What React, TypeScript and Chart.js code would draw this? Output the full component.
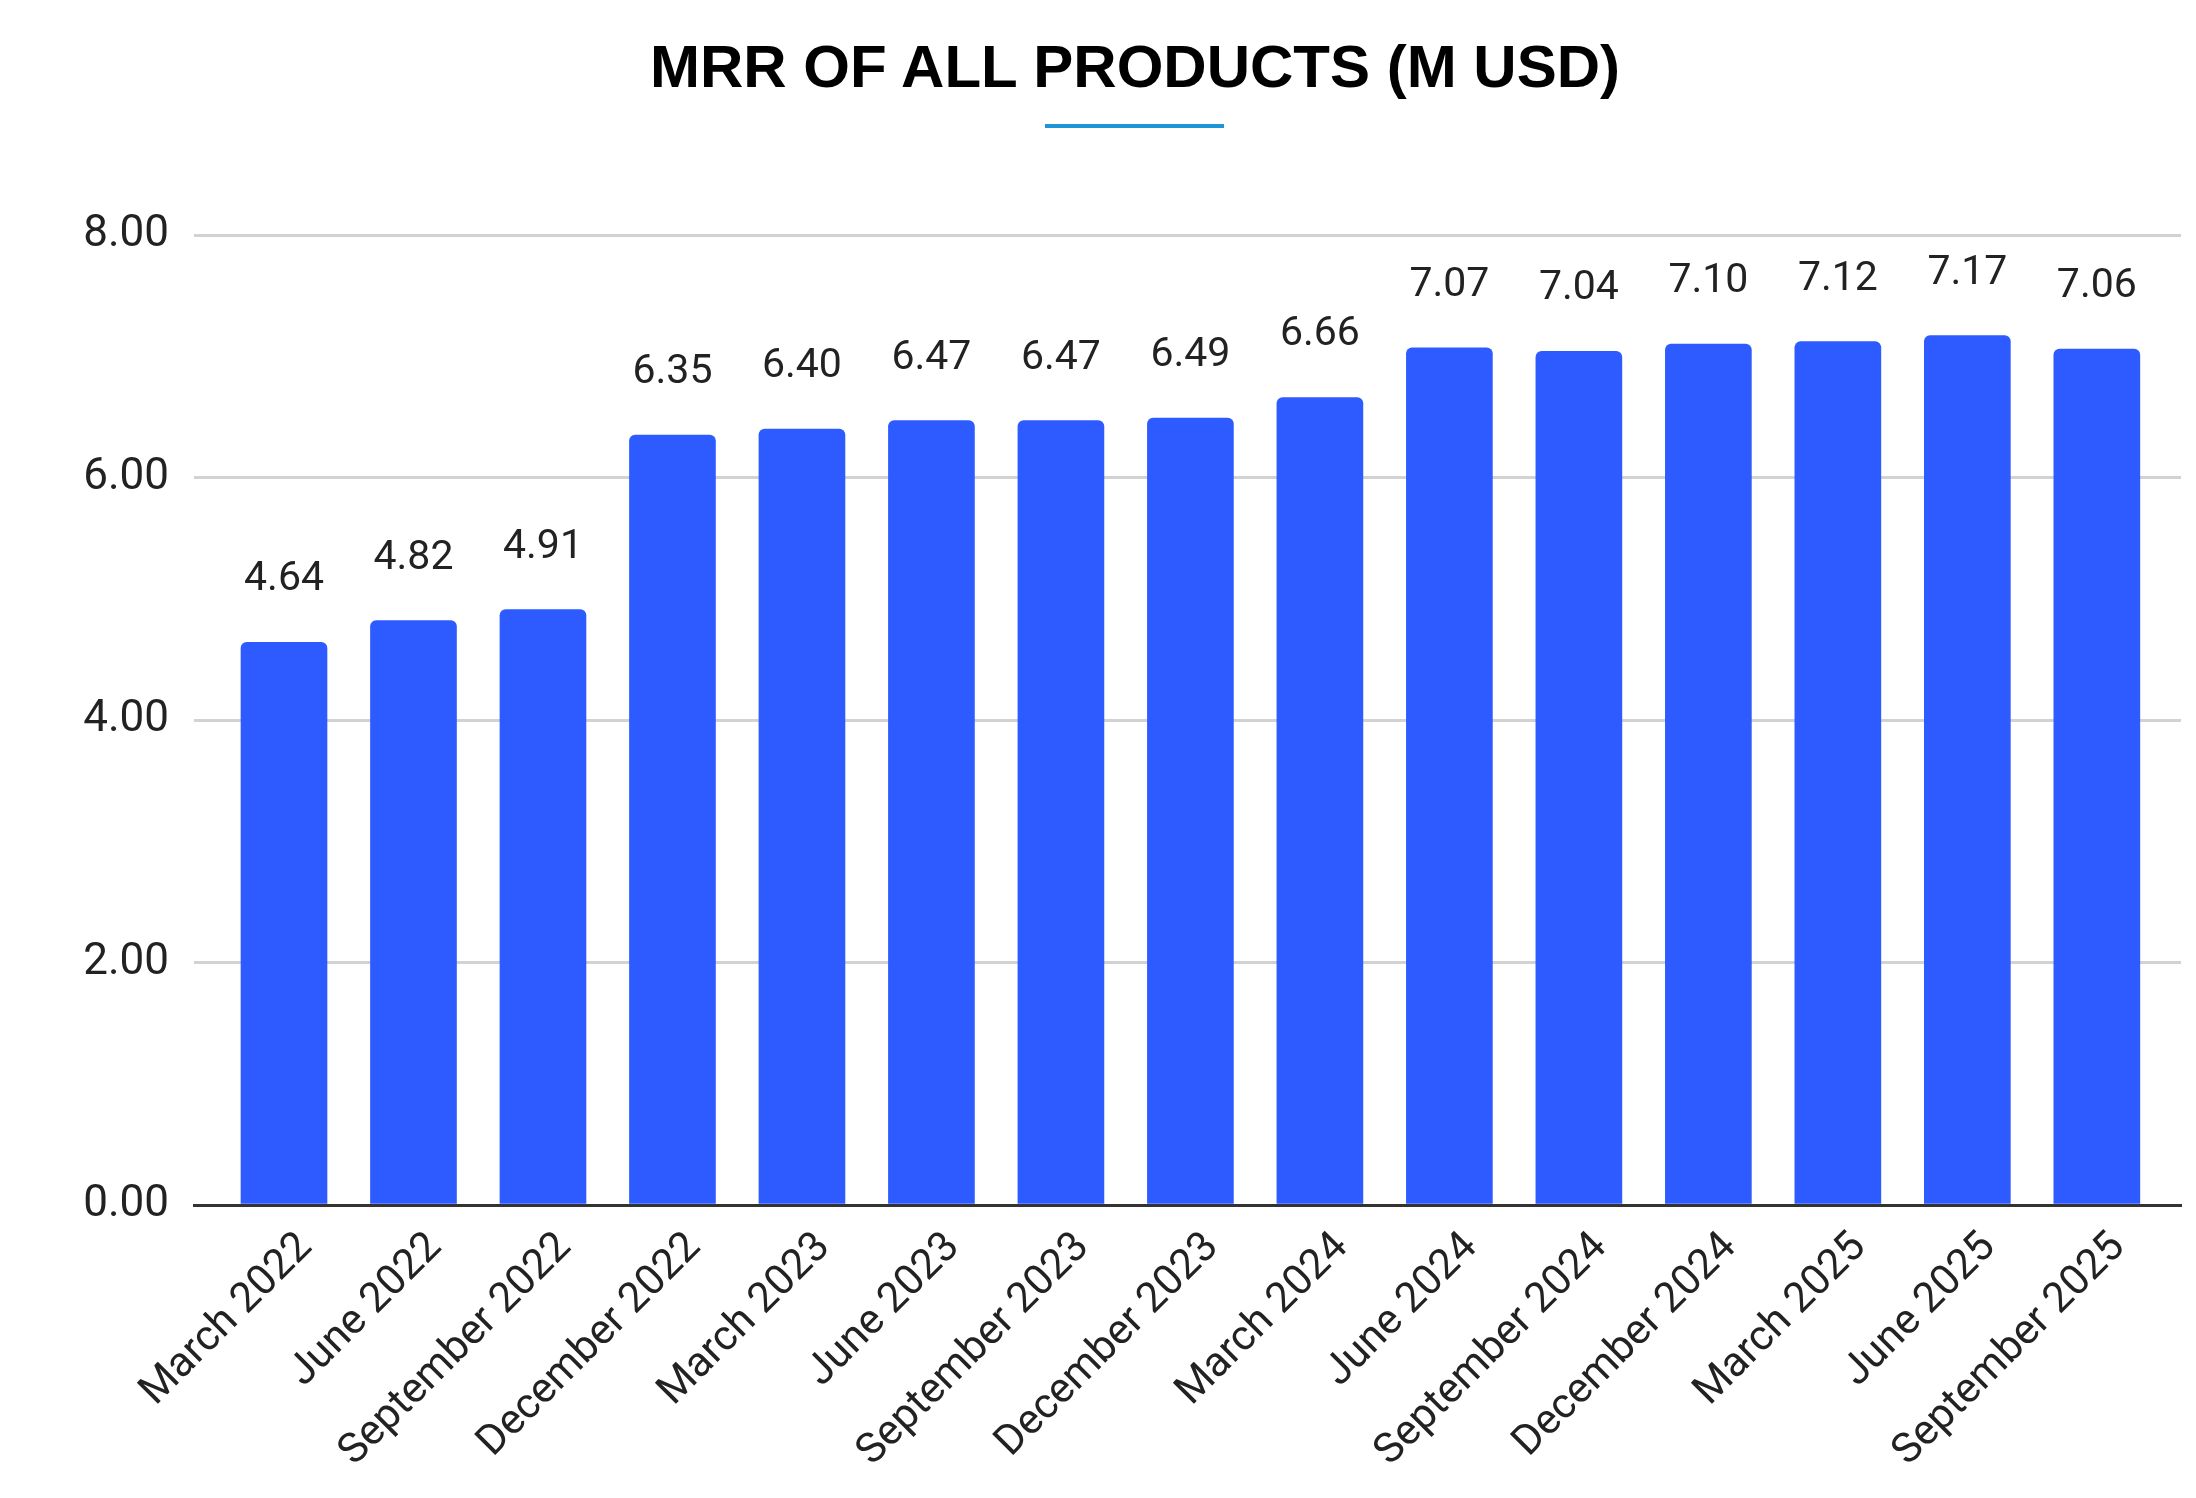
import { useEffect, useRef } from "react";
import { Chart, registerables } from "chart.js";

Chart.register(...registerables);

const TITLE = "MRR OF ALL PRODUCTS (M USD)";

const QUARTERS = [
  "March 2022",
  "June 2022",
  "September 2022",
  "December 2022",
  "March 2023",
  "June 2023",
  "September 2023",
  "December 2023",
  "March 2024",
  "June 2024",
  "September 2024",
  "December 2024",
  "March 2025",
  "June 2025",
  "September 2025",
];

const MRR = [4.64, 4.82, 4.91, 6.35, 6.4, 6.47, 6.47, 6.49, 6.66, 7.07, 7.04, 7.1, 7.12, 7.17, 7.06];

const Y_TICKS = [0, 2, 4, 6, 8];

const W = 2196;
const H = 1498;

// value labels above each bar
const valueLabels = {
  id: "valueLabels",
  afterDatasetsDraw(chart: Chart) {
    const { ctx } = chart;
    const meta = chart.getDatasetMeta(0);
    ctx.save();
    ctx.font = "41px Roboto";
    ctx.fillStyle = "#222";
    ctx.textAlign = "center";
    ctx.textBaseline = "alphabetic";
    meta.data.forEach((el: any, i: number) => {
      ctx.fillText(MRR[i].toFixed(2), el.x, el.y - 52);
    });
    ctx.restore();
  },
};

export default function App() {
  const canvasRef = useRef<HTMLCanvasElement>(null);

  useEffect(() => {
    if (!canvasRef.current) return;
    const chart = new Chart(canvasRef.current, {
      type: "bar",
      data: {
        datasets: [
          {
            data: MRR.map((y, i) => ({ x: i, y })),
            backgroundColor: "#2D5BFF",
            barThickness: 86,
            borderRadius: { topLeft: 6, topRight: 6, bottomLeft: 0, bottomRight: 0 },
            borderSkipped: false,
          },
        ],
      },
      options: {
        responsive: false,
        animation: false,
        layout: { padding: { top: 235, right: 15, left: 0, bottom: 0 } },
        plugins: { legend: { display: false }, tooltip: { enabled: false } },
        scales: {
          x: {
            type: "linear",
            offset: false,
            min: -0.695,
            max: 14.65,
            grid: { display: false },
            border: { display: true, color: "#333", width: 3 },
            afterBuildTicks: (s: any) => {
              s.ticks = QUARTERS.map((_, i) => ({ value: i }));
            },
            afterFit: (s: any) => {
              s.height = H - 1205;
            },
            ticks: {
              autoSkip: false,
              minRotation: 45,
              maxRotation: 45,
              padding: 10,
              labelOffset: 22,
              color: "#222",
              font: { family: "Roboto", size: 42 },
              callback: (v: any) => QUARTERS[Math.round(Number(v))],
            },
          },
          y: {
            min: 0,
            max: 8,
            afterBuildTicks: (s: any) => {
              s.ticks = Y_TICKS.map((value) => ({ value }));
            },
            afterFit: (s: any) => {
              s.width = 194;
            },
            border: { display: false },
            grid: {
              drawTicks: false,
              lineWidth: 3,
              color: (c: any) => (c.tick && c.tick.value === 0 ? "#333" : "#d2d2d2"),
            },
            ticks: {
              padding: 25,
              color: "#222",
              font: { family: "Roboto", size: 44 },
              callback: (v: any) => Number(v).toFixed(2),
            },
          },
        },
      },
      plugins: [valueLabels],
    });
    return () => chart.destroy();
  }, []);

  return (
    <div style={{ position: "absolute", left: 0, top: 0, width: W, height: H, background: "#fff" }}>
      <div
        style={{
          position: "absolute",
          left: 1135,
          top: 37,
          transform: "translateX(-50%)",
          whiteSpace: "nowrap",
          fontFamily: "'Liberation Sans', Arial, sans-serif",
          fontWeight: 700,
          fontSize: 60,
          lineHeight: "60px",
          color: "#000",
        }}
      >
        {TITLE}
      </div>
      <div
        style={{ position: "absolute", left: 1045, top: 124, width: 179, height: 4, background: "#1E96D6" }}
      />
      <canvas ref={canvasRef} width={W} height={H} style={{ position: "absolute", left: 0, top: 0 }} />
    </div>
  );
}
